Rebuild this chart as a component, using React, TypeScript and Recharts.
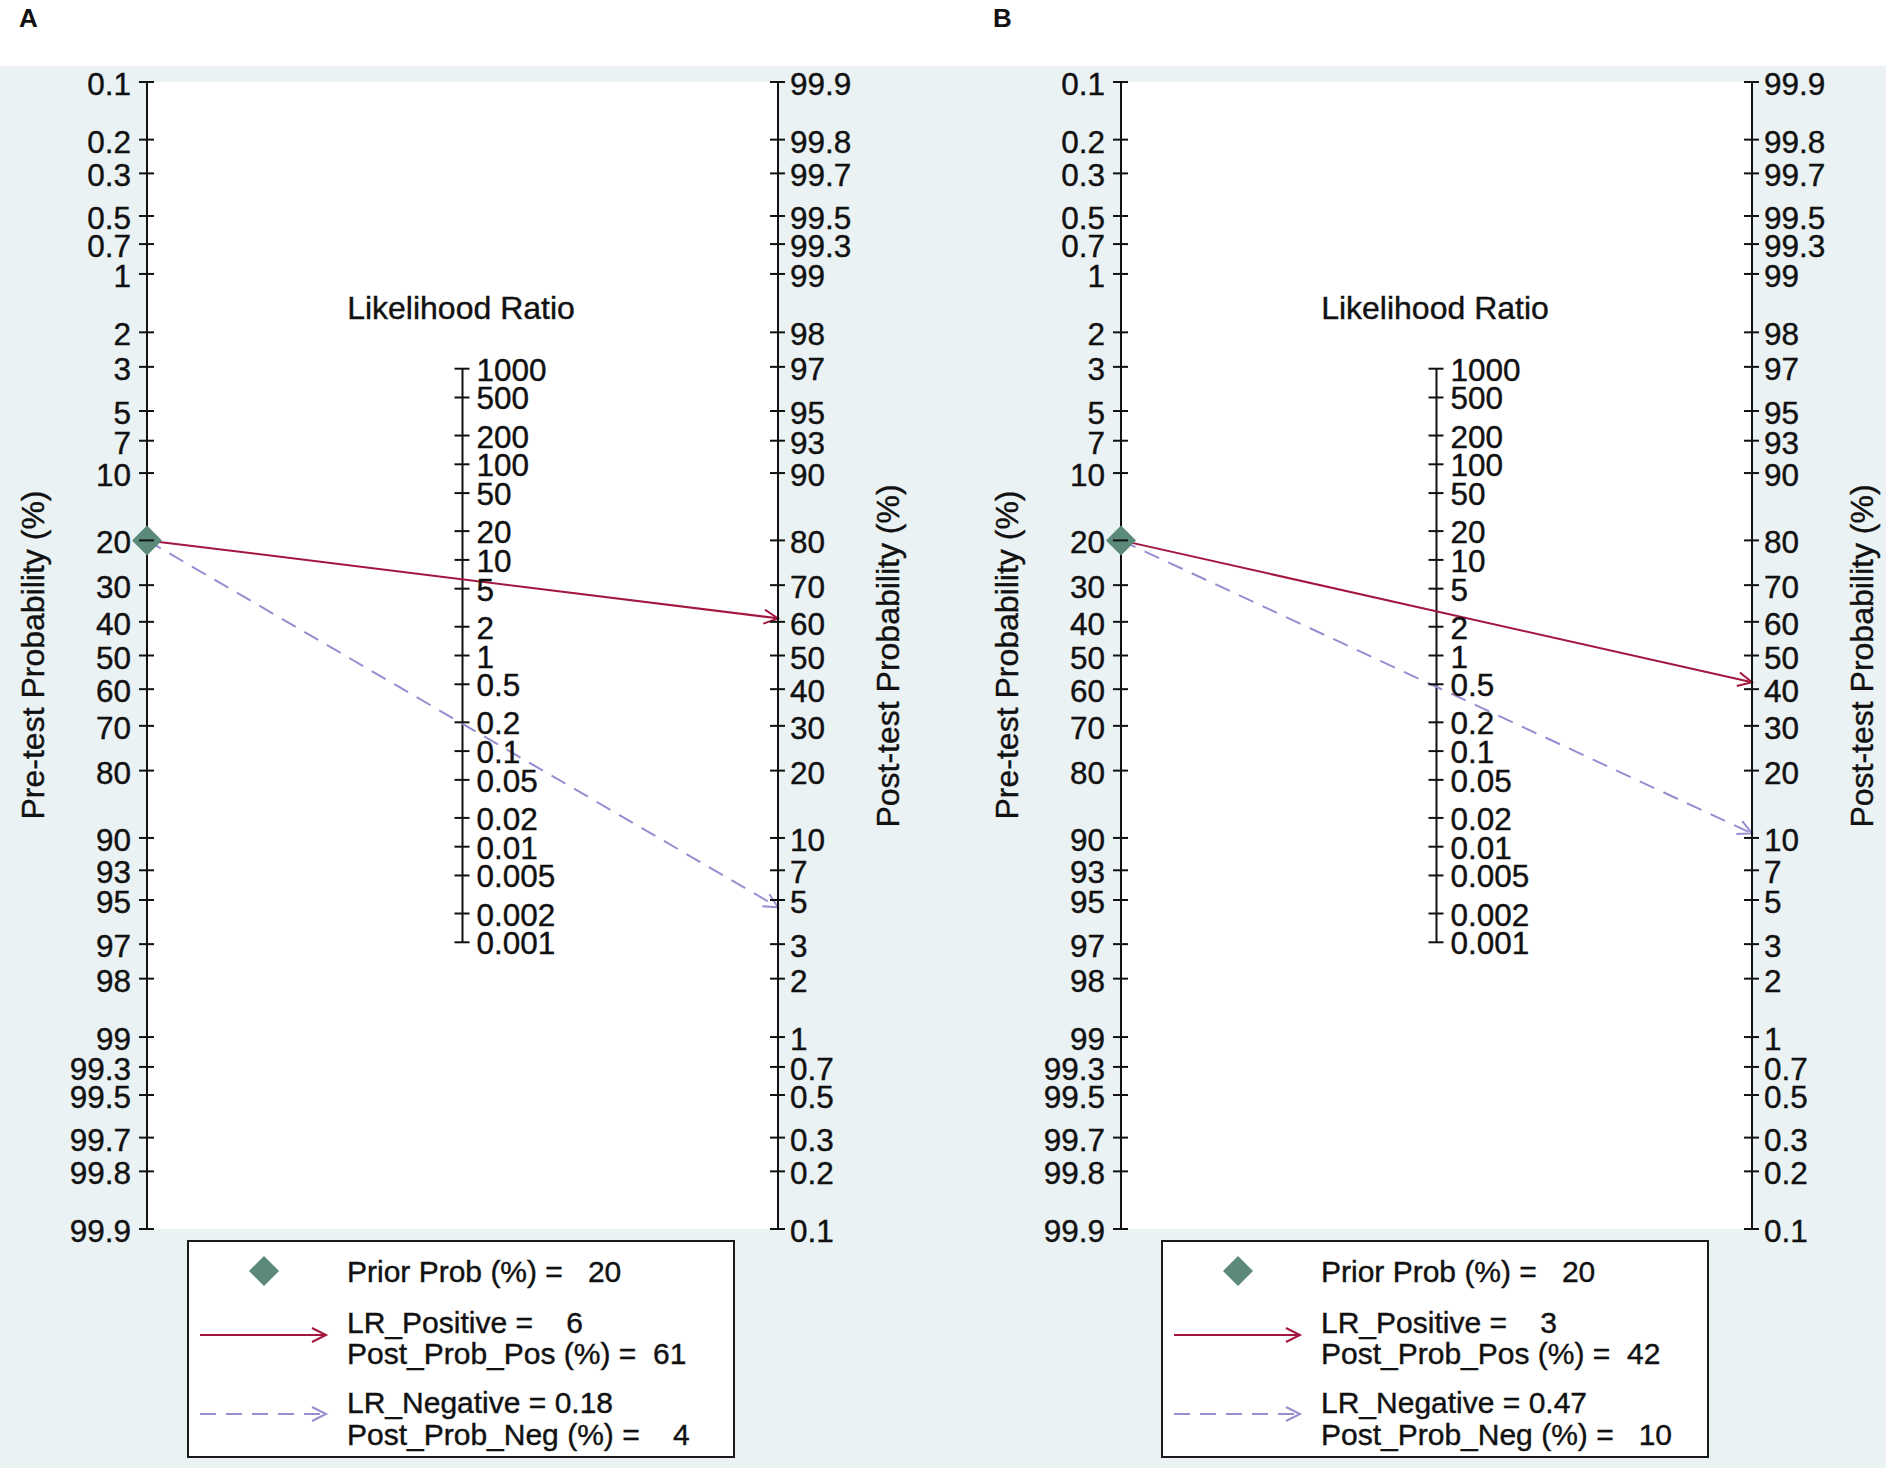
import React from 'react';
import { ComposedChart, XAxis, YAxis, Line, Scatter, CartesianGrid } from 'recharts';

// panels
const panelLetters = ['A', 'B'];
const priorProb = [20, 20];
const lrPositive = [6, 3];
const lrNegative = [0.18, 0.47];
const postProbPos = [61, 42];
const postProbNeg = [4, 10];
// where the arrow heads land on the post-test axis
const posArrowTip = [61, 42];
const negArrowTip = [4.6, 10.5];

// axis ticks
const preTestTicks = [0.1, 0.2, 0.3, 0.5, 0.7, 1, 2, 3, 5, 7, 10, 20, 30, 40, 50, 60, 70, 80, 90, 93, 95, 97, 98, 99, 99.3, 99.5, 99.7, 99.8, 99.9];
const postTestTicks = [99.9, 99.8, 99.7, 99.5, 99.3, 99, 98, 97, 95, 93, 90, 80, 70, 60, 50, 40, 30, 20, 10, 7, 5, 3, 2, 1, 0.7, 0.5, 0.3, 0.2, 0.1];
const lrTicks = [1000, 500, 200, 100, 50, 20, 10, 5, 2, 1, 0.5, 0.2, 0.1, 0.05, 0.02, 0.01, 0.005, 0.002, 0.001];

const POS_COLOR = '#a3173f';
const NEG_COLOR = '#978dd0';
const PRIOR_COLOR = '#5c8a7a';
const BG = '#eaf2f3';
const INK = '#111';
const FONT = '"Liberation Sans", Arial, Helvetica, sans-serif';
const TICK_FS = 31.5;
const TITLE_FS = 32;
const TS = 8;
const TM = 9;

const CHART_W = 912;
const CHART_H = 1468;

const logit = (p: number) => Math.log(p / (100 - p));
const LIM = logit(99.9);

const nearest = (list: number[], f: (v: number) => number, v: number) => {
  let best = list[0];
  let d = Infinity;
  list.forEach((t) => {
    const dd = Math.abs(f(t) - v);
    if (dd < d) {
      d = dd;
      best = t;
    }
  });
  return best;
};

const textProps = { fill: INK, fontFamily: FONT, stroke: INK, strokeWidth: 0.4 };

const LeftTick = (props: any) => {
  const { x, y, payload } = props;
  const ax = x + TS + TM;
  const label = nearest(preTestTicks, (p) => -logit(p), payload.value);
  return (
    <g>
      <line x1={ax - 8} x2={ax + 7} y1={y} y2={y} stroke={INK} strokeWidth={2} />
      <text x={ax - 16} y={y + 2} textAnchor="end" dominantBaseline="central" fontSize={TICK_FS} {...textProps}>
        {label}
      </text>
    </g>
  );
};

const RightTick = (props: any) => {
  const { x, y, payload } = props;
  const ax = x - TS - TM;
  const label = nearest(postTestTicks, (p) => logit(p), payload.value);
  return (
    <g>
      <line x1={ax - 8} x2={ax + 7} y1={y} y2={y} stroke={INK} strokeWidth={2} />
      <text x={ax + 12} y={y + 2} textAnchor="start" dominantBaseline="central" fontSize={TICK_FS} {...textProps}>
        {label}
      </text>
    </g>
  );
};

const LrTick = (props: any) => {
  const { cx, cy, payload } = props;
  return (
    <g>
      <line x1={cx - 8} x2={cx + 7} y1={cy} y2={cy} stroke={INK} strokeWidth={2} />
      <text x={cx + 14} y={cy + 1} textAnchor="start" dominantBaseline="central" fontSize={TICK_FS} {...textProps}>
        {payload.label}
      </text>
    </g>
  );
};

const Diamond = (props: any) => {
  const { cx, cy } = props;
  const r = 15;
  return <polygon points={`${cx},${cy - r} ${cx + r},${cy} ${cx},${cy + r} ${cx - r},${cy}`} fill={PRIOR_COLOR} />;
};

const fmt = (v: number, w = 4) => '= ' + String(v).padStart(w, ' ');

const LegendBox = ({ i }: { i: number }) => {
  const rows = [
    { y: 28, text: `Prior Prob (%) ${fmt(priorProb[i])}` },
    { y: 79, text: `LR_Positive ${fmt(lrPositive[i])}` },
    { y: 110, text: `Post_Prob_Pos (%) ${fmt(postProbPos[i], 3)}` },
    { y: 159, text: `LR_Negative ${fmt(lrNegative[i])}` },
    { y: 191, text: `Post_Prob_Neg (%) ${fmt(postProbNeg[i])}` },
  ];
  return (
    <svg width={548} height={218} style={{ position: 'absolute', left: 187, top: 1240 }}>
      <rect x={1} y={1} width={546} height={216} fill="#fff" stroke="#1a1a1a" strokeWidth={2} />
      <polygon points="77,16 92,31 77,46 62,31" fill={PRIOR_COLOR} />
      <line x1={13} x2={138} y1={95} y2={95} stroke={POS_COLOR} strokeWidth={2} />
      <path d="M125,88 L139,95 L125,102" fill="none" stroke={POS_COLOR} strokeWidth={2} />
      <line x1={13} x2={138} y1={174} y2={174} stroke={NEG_COLOR} strokeWidth={2} strokeDasharray="16 10" />
      <path d="M125,167 L139,174 L125,181" fill="none" stroke={NEG_COLOR} strokeWidth={2} />
      {rows.map((r) => (
        <text
          key={r.y}
          x={160}
          y={r.y + 3}
          dominantBaseline="central"
          fontSize={30}
          {...textProps}
          xmlSpace="preserve"
          style={{ whiteSpace: 'pre' }}
        >
          {r.text}
        </text>
      ))}
    </svg>
  );
};

const Panel = ({ i }: { i: number }) => {
  const id = panelLetters[i];
  const preY = -logit(priorProb[i]);
  const posLine = [
    { x: 0, y: preY },
    { x: 1, y: logit(posArrowTip[i]) },
  ];
  const negLine = [
    { x: 0, y: preY },
    { x: 1, y: logit(negArrowTip[i]) },
  ];
  const lrAxis = [
    { x: 0.5, y: Math.log(lrTicks[lrTicks.length - 1]) / 2 },
    { x: 0.5, y: Math.log(lrTicks[0]) / 2 },
  ];
  const lrPoints = lrTicks.map((lr) => ({ x: 0.5, y: Math.log(lr) / 2, label: String(lr) }));
  const prior = [{ x: 0, y: preY }];

  return (
    <div style={{ position: 'relative', width: CHART_W, height: CHART_H }}>
      <ComposedChart width={CHART_W} height={CHART_H} margin={{ top: 82, right: 74, bottom: 239, left: 87 }}>
        <defs>
          <marker id={`arrowPos${id}`} markerUnits="userSpaceOnUse" markerWidth={18} markerHeight={18} refX={15} refY={8} orient="auto">
            <path d="M1,1 L15,8 L1,15" fill="none" stroke={POS_COLOR} strokeWidth={2} />
          </marker>
          <marker id={`arrowNeg${id}`} markerUnits="userSpaceOnUse" markerWidth={18} markerHeight={18} refX={15} refY={8} orient="auto">
            <path d="M1,1 L15,8 L1,15" fill="none" stroke={NEG_COLOR} strokeWidth={2} />
          </marker>
        </defs>
        <CartesianGrid fill="#ffffff" horizontal={false} vertical={false} yAxisId="left" />
        <XAxis type="number" dataKey="x" domain={[0, 1]} hide />
        <YAxis
          yAxisId="left"
          type="number"
          dataKey="y"
          domain={[-LIM, LIM]}
          ticks={preTestTicks.map((p) => -logit(p))}
          interval={0}
          width={60}
          tickSize={TS}
          tickMargin={TM}
          tickLine={false}
          axisLine={{ stroke: INK, strokeWidth: 2 }}
          tick={<LeftTick />}
        />
        <YAxis
          yAxisId="right"
          orientation="right"
          type="number"
          dataKey="y"
          domain={[-LIM, LIM]}
          ticks={postTestTicks.map((p) => logit(p))}
          interval={0}
          width={60}
          tickSize={TS}
          tickMargin={TM}
          tickLine={false}
          axisLine={{ stroke: INK, strokeWidth: 2 }}
          tick={<RightTick />}
        />
        <Scatter yAxisId="left" data={prior} shape={<Diamond />} isAnimationActive={false} />
        <Line yAxisId="left" data={lrAxis} dataKey="y" stroke={INK} strokeWidth={2} dot={false} isAnimationActive={false} />
        <Scatter yAxisId="left" data={lrPoints} shape={<LrTick />} isAnimationActive={false} />
        <Line
          yAxisId="right"
          data={posLine}
          dataKey="y"
          type="linear"
          stroke={POS_COLOR}
          strokeWidth={2}
          dot={false}
          markerEnd={`url(#arrowPos${id})`}
          isAnimationActive={false}
        />
        <Line
          yAxisId="right"
          data={negLine}
          dataKey="y"
          type="linear"
          stroke={NEG_COLOR}
          strokeWidth={2}
          strokeDasharray="16 10"
          dot={false}
          markerEnd={`url(#arrowNeg${id})`}
          isAnimationActive={false}
        />
        <text x={19} y={27} fontSize={26} fontWeight="bold" fill={INK} fontFamily={FONT}>
          {id}
        </text>
        <text x={461} y={308} textAnchor="middle" dominantBaseline="central" fontSize={TITLE_FS} {...textProps}>
          Likelihood Ratio
        </text>
        <text x={33} y={655} transform="rotate(-90 33 655)" textAnchor="middle" dominantBaseline="central" fontSize={TITLE_FS} {...textProps}>
          Pre-test Probability (%)
        </text>
        <text x={888} y={656} transform="rotate(-90 888 656)" textAnchor="middle" dominantBaseline="central" fontSize={TITLE_FS} {...textProps}>
          Post-test Probability (%)
        </text>
      </ComposedChart>
      <LegendBox i={i} />
    </div>
  );
};

export default function App() {
  return (
    <div style={{ position: 'absolute', left: 0, top: 0, width: 1886, height: 1468, background: '#fff', overflow: 'hidden', fontFamily: FONT }}>
      <div style={{ position: 'absolute', left: 0, top: 66, width: 1886, height: 1402, background: BG }} />
      {panelLetters.map((p, i) => (
        <div key={p} style={{ position: 'absolute', left: i * 974, top: 0 }}>
          <Panel i={i} />
        </div>
      ))}
    </div>
  );
}
